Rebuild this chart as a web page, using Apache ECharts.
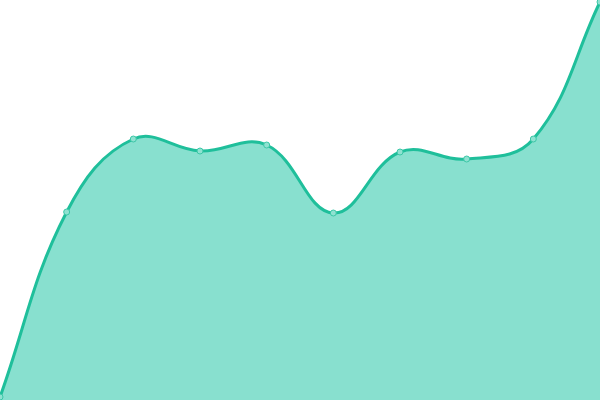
<!DOCTYPE html>
<html>
<head>
<meta charset="utf-8">
<script src="https://cdn.jsdelivr.net/npm/echarts@6/dist/echarts.min.js"></script>
<style>html,body{margin:0;padding:0;background:#fff}#c{width:600px;height:400px}</style>
</head>
<body>
<div id="c"></div>
<script>
var categories = ['1','2','3','4','5','6','7','8','9','10'];
var values = [3, 188, 261, 249, 255, 187, 248, 241, 261, 398];
var TENSION = 0.4;

function buildPath(api) {
  var pts = values.map(function (v, i) { return api.coord([i, v]); });
  var n = pts.length;
  var cps = [];
  for (var i = 0; i < n; i++) {
    var p0 = pts[i > 0 ? i - 1 : i], p1 = pts[i], p2 = pts[i < n - 1 ? i + 1 : i];
    var d01 = Math.hypot(p1[0] - p0[0], p1[1] - p0[1]);
    var d12 = Math.hypot(p2[0] - p1[0], p2[1] - p1[1]);
    var s01 = d01 / (d01 + d12 || 1), s12 = d12 / (d01 + d12 || 1);
    var fa = TENSION * s01, fb = TENSION * s12;
    cps.push({
      prev: [p1[0] - fa * (p2[0] - p0[0]), p1[1] - fa * (p2[1] - p0[1])],
      next: [p1[0] + fb * (p2[0] - p0[0]), p1[1] + fb * (p2[1] - p0[1])]
    });
  }
  var d = 'M' + pts[0][0] + ' ' + pts[0][1];
  for (var j = 0; j < n - 1; j++) {
    var a = cps[j].next, b = cps[j + 1].prev, e = pts[j + 1];
    d += ' C' + a[0] + ' ' + a[1] + ' ' + b[0] + ' ' + b[1] + ' ' + e[0] + ' ' + e[1];
  }
  return {d: d, pts: pts};
}

var chart = echarts.init(document.getElementById('c'));
chart.setOption({
  animation: false,
  grid: {left: 0, right: 0, top: 0, bottom: 0},
  xAxis: {type: 'category', data: categories, boundaryGap: false, show: false},
  yAxis: {type: 'value', min: 0, max: 400, show: false},
  series: [{
    type: 'custom',
    data: [[0, 0]],
    clip: false,
    renderItem: function (params, api) {
      var r = buildPath(api);
      var last = r.pts[r.pts.length - 1];
      var b0 = api.coord([0, 0]);
      var b1 = api.coord([values.length - 1, 0]);
      var area = r.d + ' L' + b1[0] + ' ' + (b1[1] + 2) + ' L' + b0[0] + ' ' + (b0[1] + 2) + ' Z';
      return {
        type: 'group',
        children: [
          {type: 'path', shape: {pathData: area}, style: {fill: '#88e0cf', stroke: null}},
          {type: 'path', shape: {pathData: r.d}, style: {fill: null, stroke: '#1fbf9b', lineWidth: 3}}
        ]
      };
    }
  }, {
    type: 'line',
    data: values,
    symbol: 'circle',
    symbolSize: 6,
    lineStyle: {width: 0, opacity: 0},
    itemStyle: {color: '#8fe2d1', borderColor: '#3cc7a7', borderWidth: 1},
    z: 5
  }]
});
</script>
</body>
</html>
